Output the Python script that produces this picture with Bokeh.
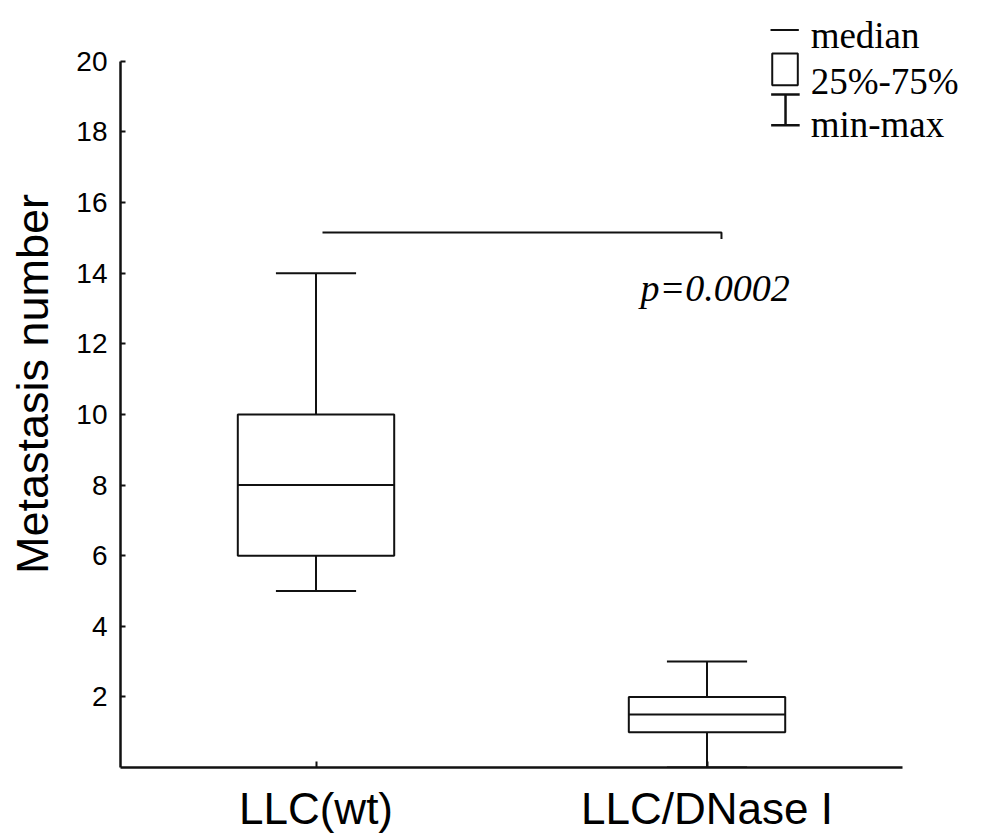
from bokeh.plotting import figure
from bokeh.models import Range1d, FixedTicker
from bokeh.core.properties import value
from bokeh.embed import file_html
from bokeh.resources import INLINE

# ---- data ----
categories = ["LLC(wt)", "LLC/DNase I"]
positions = [1, 2]
mins = [5, 0]
q1 = [6, 1]
medians = [8, 1.5]
q3 = [10, 2]
maxs = [14, 3]
y_ticks = [2, 4, 6, 8, 10, 12, 14, 16, 18, 20]
p_label = "p=0.0002"
legend_labels = ["median", "25%-75%", "min-max"]

# ---- layout constants ----
BOX_W = 0.40
CAP_W = 0.205
LINE = "#111111"
SANS = "Liberation Sans"
SERIF = "Liberation Serif"

p = figure(width=981, height=835,
           x_range=Range1d(0.5, 2.702), y_range=Range1d(0, 21.723),
           output_backend="svg", toolbar_location=None,
           min_border_left=120, min_border_right=0,
           min_border_top=0, min_border_bottom=66)
p.background_fill_color = "white"
p.border_fill_color = "white"
p.outline_line_color = None
p.xgrid.grid_line_color = None
p.ygrid.grid_line_color = None

# y axis
ya = p.yaxis[0]
ya.bounds = (0, 20)
ya.ticker = FixedTicker(ticks=y_ticks)
ya.major_tick_in = 5
ya.major_tick_out = 0
ya.minor_tick_line_color = None
ya.axis_line_width = 2.5
ya.axis_line_color = LINE
ya.major_tick_line_width = 2
ya.major_tick_line_color = LINE
ya.major_label_text_font = SANS
ya.major_label_text_font_size = "28px"
ya.major_label_text_color = "black"
ya.major_label_standoff = 13
ya.axis_label = "Metastasis number"
ya.axis_label_text_font = SANS
ya.axis_label_text_font_size = "45px"
ya.axis_label_text_font_style = "normal"
ya.axis_label_text_color = "black"
ya.axis_label_standoff = 15

# x axis
xa = p.xaxis[0]
xa.bounds = (0.5, 2.5)
xa.ticker = FixedTicker(ticks=positions)
xa.major_label_overrides = {pos: cat for pos, cat in zip(positions, categories)}
xa.major_tick_in = 6
xa.major_tick_out = 0
xa.minor_tick_line_color = None
xa.axis_line_width = 2.5
xa.axis_line_color = LINE
xa.major_tick_line_width = 2
xa.major_tick_line_color = LINE
xa.major_label_text_font = SANS
xa.major_label_text_font_size = "44px"
xa.major_label_text_color = "black"
xa.major_label_standoff = 16

# ---- box plots ----
left = [x - BOX_W / 2 for x in positions]
right = [x + BOX_W / 2 for x in positions]
cap_l = [x - CAP_W / 2 for x in positions]
cap_r = [x + CAP_W / 2 for x in positions]

p.segment(x0=positions, y0=q3, x1=positions, y1=maxs, line_color=LINE, line_width=2)
p.segment(x0=positions, y0=mins, x1=positions, y1=q1, line_color=LINE, line_width=2)
p.segment(x0=cap_l, y0=maxs, x1=cap_r, y1=maxs, line_color=LINE, line_width=2)
p.segment(x0=cap_l, y0=mins, x1=cap_r, y1=mins, line_color=LINE, line_width=2)
p.quad(left=left, right=right, bottom=q1, top=q3, fill_color="white",
       line_color=LINE, line_width=2)
p.segment(x0=left, y0=medians, x1=right, y1=medians, line_color=LINE, line_width=2)

# ---- significance bracket ----
p.line(x=[1.0166, 2.037, 2.037], y=[15.15, 15.15, 14.97], line_color=LINE, line_width=2)
p.text(x=[1.83], y=[13.59], text=[p_label], text_font=value(SERIF),
       text_font_style="italic", text_font_size="38px", text_color="black",
       text_align="left", text_baseline="alphabetic")

# ---- legend (drawn manually) ----
p.segment(x0=[2.1624], y0=[20.89], x1=[2.2348], y1=[20.89], line_color=LINE, line_width=2)
p.quad(left=[2.1668], right=[2.2322], bottom=[19.32], top=[20.22],
       fill_color=None, line_color=LINE, line_width=2)
p.segment(x0=[2.164, 2.164, 2.2008], y0=[19.06, 18.19, 19.06],
          x1=[2.237, 2.237, 2.2008], y1=[19.06, 18.19, 18.19],
          line_color=LINE, line_width=2.5)
p.text(x=[2.265, 2.265, 2.265], y=[20.73, 19.42, 18.22], text=legend_labels,
       text_font=value(SERIF), text_font_size="37px", text_color="black",
       text_align="left", text_baseline="alphabetic")

open("out.html", "w").write(file_html(p, INLINE))
